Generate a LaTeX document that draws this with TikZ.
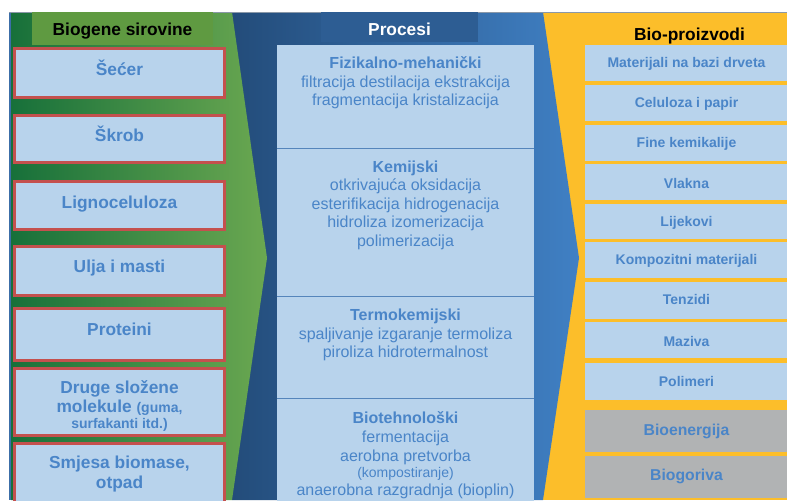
\documentclass[tikz,border=0pt]{standalone}
\usepackage{fontspec}
\setmainfont{Liberation Sans}
\usetikzlibrary{fit}
\definecolor{ylw}{HTML}{FCBE2A}
\definecolor{bluedark}{HTML}{234C7A}
\definecolor{bluelight}{HTML}{4080C4}
\definecolor{grdark}{HTML}{17703A}
\definecolor{grlight}{HTML}{6BA851}
\definecolor{hdrgr}{HTML}{5F9A41}
\definecolor{hdrbl}{HTML}{2D5D93}
\definecolor{stripe}{HTML}{3C6EA8}
\definecolor{lfill}{HTML}{B8D3EC}
\definecolor{redb}{HTML}{C4504E}
\definecolor{tblue}{HTML}{4A85C8}
\definecolor{greyb}{HTML}{B1B3B4}
\definecolor{msepc}{HTML}{5585BB}
\definecolor{topl}{HTML}{8A98A8}
\begin{document}
\begin{tikzpicture}[x=0.75pt,y=-0.75pt,
  lbox/.style={draw=redb, line width=2.25pt, fill=lfill, inner sep=0pt},
  ltext/.style={font=\fontsize{13}{15}\selectfont\bfseries, text=tblue, align=center, inner sep=0pt},
  mbox/.style={fill=lfill, inner sep=0pt},
  mtext/.style={font=\fontsize{12}{13.9}\selectfont, text=tblue, align=center, inner sep=0pt},
  msep/.style={draw=msepc, line width=1.1pt},
  rbox/.style={fill=lfill, inner sep=0pt},
  gbox/.style={fill=greyb, inner sep=0pt},
  rtext/.style={inner sep=0pt, text=tblue, font=\fontsize{10.5}{12}\selectfont\bfseries, text height=0.72em, text depth=0.2em},
  gtext/.style={rtext, font=\fontsize{11.8}{13}\selectfont\bfseries},
  hdrtext/.style={inner sep=0pt, font=\fontsize{13}{15}\selectfont\bfseries, text height=0.72em, text depth=0.2em}
]
\useasboundingbox (0,0) rectangle (787,500);
\clip (0,0) rectangle (787,500);
% background bands
\fill[ylw] (543,12) rectangle (787,500);
\path[left color=bluedark, right color=bluelight] (232,12) -- (543,12) -- (579,258) -- (543,500) -- (232,500) -- cycle;
\path[left color=grdark, right color=grlight] (11,12) -- (232,12) -- (267,258) -- (232,500) -- (11,500) -- cycle;
\fill[stripe] (9,12) rectangle (11,500);
\draw[topl, line width=0.6pt] (9,12) -- (787,12);
% headers
\node[fill=hdrgr, inner sep=0pt, fit={(32,12) (213,45)}] (hg) {};
\node[hdrtext, text=black] (hgt) at (122.5,32) {Biogene sirovine};
\node[fill=hdrbl, inner sep=0pt, fit={(321,12) (478,42)}] (hb) {};
\node[hdrtext, text=white] (hbt) at (399.5,32) {Procesi};
\node[hdrtext, text=black, anchor=base] (hy) at (689.5,40) {Bio-proizvodi};
% left boxes
\node[lbox, fit={(14.5,48.5) (224.5,97.5)}] (l1) {};
\node[lbox, fit={(14.5,115.5) (224.5,162.5)}] (l2) {};
\node[lbox, fit={(14.5,181.5) (224.5,229.5)}] (l3) {};
\node[lbox, fit={(14.5,246.5) (224.5,295.5)}] (l4) {};
\node[lbox, fit={(14.5,308.5) (224.5,360.5)}] (l5) {};
\node[lbox, fit={(14.5,368.5) (224.5,435.5)}] (l6) {};
\node[lbox, fit={(14.5,443.5) (224.5,506)}] (l7) {};
\node[ltext] (lt1) at (119.5,68) {Šećer};
\node[ltext] (lt2) at (119.5,134) {Škrob};
\node[ltext] (lt3) at (119.5,204) {Lignoceluloza};
\node[ltext] (lt4) at (119.5,268) {Ulja i masti};
\node[ltext] (lt5) at (119.5,329) {Proteini};
\node[ltext, font=\fontsize{13}{14.25}\selectfont\bfseries] (lt6) at (119.5,406) {Druge složene\\molekule {\fontsize{10.5}{12}\selectfont(guma,}\\[-2.25pt]{\fontsize{10.5}{12}\selectfont surfakanti itd.)}};
\node[ltext] (lt7) at (119.5,474) {Smjesa biomase,\\otpad};
% middle boxes
\node[mbox, fit={(277,45) (534,148)}] (m1) {};
\node[mbox, fit={(277,148) (534,296)}] (m2) {};
\node[mbox, fit={(277,296) (534,398)}] (m3) {};
\node[mbox, fit={(277,398) (534,505)}] (m4) {};
\draw[msep] (m1.south west) -- (m1.south east);
\draw[msep] (m2.south west) -- (m2.south east);
\draw[msep] (m3.south west) -- (m3.south east);
\node[mtext] (mt1) at (405.5,83) {\textbf{Fizikalno-mehanički}\\filtracija destilacija ekstrakcija\\fragmentacija kristalizacija};
\node[mtext] (mt2) at (405.5,205) {\textbf{Kemijski}\\otkrivajuća oksidacija\\esterifikacija hidrogenacija\\hidroliza izomerizacija\\polimerizacija};
\node[mtext] (mt3) at (405.5,335) {\textbf{Termokemijski}\\spaljivanje izgaranje termoliza\\piroliza hidrotermalnost};
\node[mtext] (mt4) at (405.5,455) {\textbf{Biotehnološki}\\[0.5pt]fermentacija\\aerobna pretvorba\\[-1.5pt]{\fontsize{10.5}{12}\selectfont(kompostiranje)}\\[-1pt]anaerobna razgradnja (bioplin)};
% right boxes
\node[rbox, fit={(585,45) (789,81)}] (r1) {};
\node[rbox, fit={(585,85) (789,121)}] (r2) {};
\node[rbox, fit={(585,125) (789,161)}] (r3) {};
\node[rbox, fit={(585,164) (789,200)}] (r4) {};
\node[rbox, fit={(585,204) (789,239)}] (r5) {};
\node[rbox, fit={(585,242) (789,278)}] (r6) {};
\node[rbox, fit={(585,282) (789,319)}] (r7) {};
\node[rbox, fit={(585,322) (789,358)}] (r8) {};
\node[rbox, fit={(585,363) (789,400)}] (r9) {};
\node[gbox, fit={(585,410) (789,452)}] (r10) {};
\node[gbox, fit={(585,456) (789,498)}] (r11) {};
\node[rtext] (rt1) at (686.5,64) {Materijali na bazi drveta};
\node[rtext] (rt2) at (686.5,104) {Celuloza i papir};
\node[rtext] (rt3) at (686.5,144) {Fine kemikalije};
\node[rtext] (rt4) at (686.5,185) {Vlakna};
\node[rtext] (rt5) at (686.5,223) {Lijekovi};
\node[rtext] (rt6) at (686.5,261) {Kompozitni materijali};
\node[rtext] (rt7) at (686.5,301) {Tenzidi};
\node[rtext] (rt8) at (686.5,343) {Maziva};
\node[rtext] (rt9) at (686.5,383) {Polimeri};
\node[gtext] (rt10) at (686.5,432) {Bioenergija};
\node[gtext] (rt11) at (686.5,477) {Biogoriva};
\end{tikzpicture}
\end{document}
